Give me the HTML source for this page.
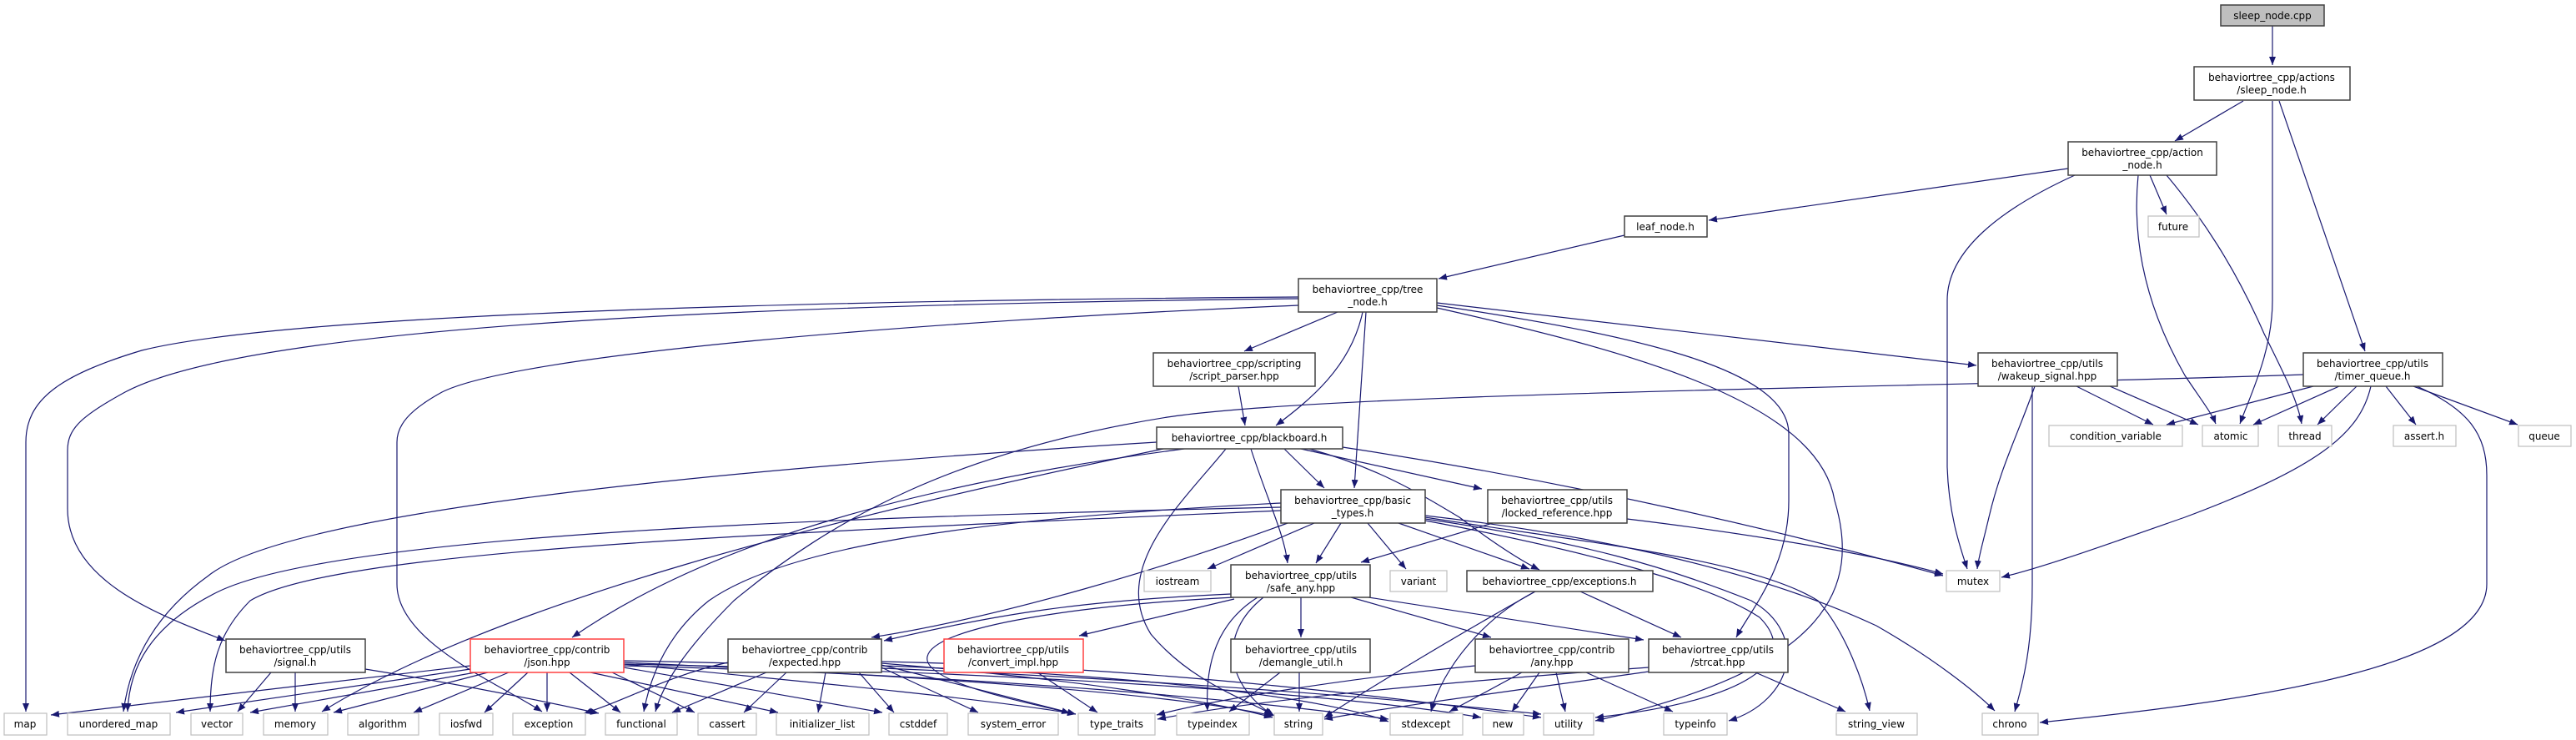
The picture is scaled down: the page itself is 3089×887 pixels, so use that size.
<!DOCTYPE html>
<html><head><meta charset="utf-8"><style>
html,body{margin:0;padding:0;background:#fff;}
svg{display:block;}
text{font-family:"DejaVu Sans","Liberation Sans",sans-serif;font-size:12px;fill:#000;text-anchor:middle;}
.n{fill:#fff;stroke:#404040;stroke-width:1.5;}
.l{fill:#fff;stroke:#bfbfbf;stroke-width:1.2;}
.r{fill:#fff;stroke:#ff4040;stroke-width:1.5;}
.e path{fill:none;stroke:#191970;stroke-width:1.2;marker-end:url(#a);}
</style></head><body>
<svg width="3089" height="887" viewBox="0 0 3089 887" xmlns="http://www.w3.org/2000/svg">
<defs><marker id="a" markerUnits="userSpaceOnUse" markerWidth="11" markerHeight="8" refX="10" refY="4" orient="auto"><path d="M0,0 L10,4 L0,8 z" fill="#191970"/></marker></defs>
<g class="e">
<path d="M2725,31 L2725,78"/>
<path d="M2690,121 L2608,169"/>
<path d="M2733,121 L2836,421"/>
<path d="M2725,121 L2725,360 C2725,420 2700,470 2686,508"/>
<path d="M2480,202 L2049,264"/>
<path d="M2578,210 L2598,257"/>
<path d="M2488,210 C2400,250 2335,300 2335,360 L2335,560 C2337,620 2352,660 2359,682"/>
<path d="M2564,210 C2555,300 2580,380 2620,450 C2640,480 2652,495 2657,508"/>
<path d="M2598,210 C2640,260 2680,320 2715,400 C2740,450 2755,480 2760,508"/>
<path d="M1948,282 L1725,334"/>
<path d="M1557,356 C1000,360 350,375 170,420 C70,450 31,480 31,530 L31,853"/>
<path d="M1557,358 C900,365 300,390 150,470 C95,500 81,515 81,540 L81,610 C81,700 200,740 270,768"/>
<path d="M1557,366 C1100,385 620,425 530,470 C490,492 476,510 476,530 L476,700 C476,770 600,820 650,853"/>
<path d="M1604,374 L1492,421"/>
<path d="M1634,374 C1620,440 1570,480 1530,510"/>
<path d="M1638,374 L1624,585"/>
<path d="M1723,363 L2370,438"/>
<path d="M1723,366 C1950,400 2145,440 2145,520 L2145,600 C2145,680 2100,730 2082,764"/>
<path d="M1723,369 C1950,420 2180,480 2200,600 C2230,700 2200,800 1913,864"/>
<path d="M1485,463 L1493,510"/>
<path d="M1540,538 L1588,585"/>
<path d="M1500,538 C1520,600 1540,640 1544,675"/>
<path d="M1560,538 L1777,586"/>
<path d="M1570,538 C1650,560 1700,590 1750,620 C1790,650 1820,670 1846,683"/>
<path d="M1610,536 C1900,580 2150,640 2330,690"/>
<path d="M1470,538 C1420,600 1330,680 1380,760 C1430,820 1500,840 1528,858"/>
<path d="M1387,530 C900,560 350,610 250,690 C180,740 155,800 148,853"/>
<path d="M1395,538 C1000,620 600,720 386,853"/>
<path d="M1420,538 C1100,580 850,650 686,764"/>
<path d="M2490,463 L2582,509"/>
<path d="M2530,463 L2636,509"/>
<path d="M2440,463 C2420,520 2399,560 2385,620 C2378,650 2372,670 2371,682"/>
<path d="M2437,463 L2437,700 C2437,780 2425,820 2416,853"/>
<path d="M2774,463 L2598,509"/>
<path d="M2805,463 L2702,509"/>
<path d="M2826,463 L2779,509"/>
<path d="M2861,463 L2897,509"/>
<path d="M2894,463 L3019,509"/>
<path d="M2896,462 C2960,490 2982,520 2982,570 L2982,700 C2982,800 2700,840 2446,866"/>
<path d="M2843,463 C2830,520 2780,560 2620,620 C2520,655 2450,680 2400,692"/>
<path d="M2762,449 C2300,465 1600,470 1400,500 C1150,540 1000,620 880,720 C820,780 795,820 786,853"/>
<path d="M1536,603 C1200,620 950,650 850,720 C800,760 780,810 772,853"/>
<path d="M1536,608 C1000,620 400,640 260,710 C180,750 155,800 153,853"/>
<path d="M1536,612 C900,640 400,660 300,720 C260,760 252,800 252,853"/>
<path d="M1576,627 L1448,682"/>
<path d="M1608,627 L1578,675"/>
<path d="M1640,627 L1686,682"/>
<path d="M1677,627 L1834,682"/>
<path d="M1544,627 C1400,680 1200,740 1045,764"/>
<path d="M1709,618 C1900,640 2100,680 2250,750 C2320,790 2370,830 2392,852"/>
<path d="M1709,620 C1900,650 2100,670 2180,720 C2215,760 2235,820 2242,852"/>
<path d="M1709,622 C1900,650 2000,680 2100,720 C2170,760 2150,840 2073,864"/>
<path d="M1709,624 C1900,660 2050,700 2110,740 C2160,790 2100,840 1913,860"/>
<path d="M1790,627 L1632,674"/>
<path d="M1951,622 C2100,640 2250,665 2330,688"/>
<path d="M1480,718 L1294,762"/>
<path d="M1476,712 C1300,720 1200,735 1060,768"/>
<path d="M1560,716 L1560,764"/>
<path d="M1620,716 L1788,764"/>
<path d="M1641,716 L1971,767"/>
<path d="M1508,716 C1470,740 1444,780 1448,852"/>
<path d="M1515,716 C1460,760 1470,820 1526,857"/>
<path d="M1480,716 C1300,725 1120,750 1112,787 C1105,820 1250,845 1283,855"/>
<path d="M1895,709 L2016,764"/>
<path d="M1841,709 C1780,740 1730,800 1716,853"/>
<path d="M1841,709 C1750,760 1650,820 1588,860"/>
<path d="M325,806 L285,853"/>
<path d="M354,806 L354,853"/>
<path d="M438,802 C550,820 650,840 718,855"/>
<path d="M564,798 L61,857"/>
<path d="M564,802 L211,854"/>
<path d="M570,806 L300,854"/>
<path d="M585,806 L400,854"/>
<path d="M610,806 L496,854"/>
<path d="M633,806 L581,854"/>
<path d="M656,806 L656,853"/>
<path d="M683,806 L744,854"/>
<path d="M734,806 L833,854"/>
<path d="M708,806 L933,854"/>
<path d="M748,800 L1058,854"/>
<path d="M748,796 C1000,820 1200,840 1290,856"/>
<path d="M748,794 C1100,810 1400,830 1526,858"/>
<path d="M748,792 C1200,800 1600,830 1848,856"/>
<path d="M748,798 C1200,810 1500,840 1665,862"/>
<path d="M748,796 C1200,805 1600,830 1776,860"/>
<path d="M919,806 L806,854"/>
<path d="M873,794 C800,810 750,840 700,855"/>
<path d="M943,806 L892,854"/>
<path d="M990,806 L981,854"/>
<path d="M1030,806 L1072,854"/>
<path d="M1057,800 L1173,854"/>
<path d="M1057,797 L1290,856"/>
<path d="M1057,795 C1300,815 1450,840 1526,860"/>
<path d="M1057,793 C1400,800 1700,840 1848,860"/>
<path d="M1057,798 C1400,810 1600,840 1665,865"/>
<path d="M1244,806 L1316,854"/>
<path d="M1535,806 L1474,853"/>
<path d="M1558,806 L1558,853"/>
<path d="M1825,806 L1738,853"/>
<path d="M1846,806 L1813,853"/>
<path d="M1866,806 L1877,853"/>
<path d="M1902,806 L2006,853"/>
<path d="M1769,798 C1600,815 1450,840 1387,857"/>
<path d="M1977,805 C1800,830 1650,850 1588,862"/>
<path d="M2105,806 L2213,853"/>
<path d="M1977,800 C1700,820 1500,840 1388,862"/>
</g>
<!-- main nodes -->
<rect x="2663" y="6" width="124" height="25" fill="#bfbfbf" stroke="#404040" stroke-width="1.5"/><text x="2725" y="23">sleep_node.cpp</text>
<rect class="n" x="2631" y="80" width="187" height="40"/><text x="2724" y="97">behaviortree_cpp/actions</text><text x="2724" y="112">/sleep_node.h</text>
<rect class="n" x="2480" y="170" width="178" height="40"/><text x="2569" y="187">behaviortree_cpp/action</text><text x="2569" y="202">_node.h</text>
<rect class="n" x="1948" y="259" width="99" height="25"/><text x="1997" y="276">leaf_node.h</text>
<rect class="n" x="1557" y="334" width="166" height="40"/><text x="1640" y="351">behaviortree_cpp/tree</text><text x="1640" y="366">_node.h</text>
<rect class="n" x="1383" y="423" width="194" height="40"/><text x="1480" y="440">behaviortree_cpp/scripting</text><text x="1480" y="455">/script_parser.hpp</text>
<rect class="n" x="2372" y="423" width="167" height="40"/><text x="2455" y="440">behaviortree_cpp/utils</text><text x="2455" y="455">/wakeup_signal.hpp</text>
<rect class="n" x="2762" y="423" width="167" height="40"/><text x="2845" y="440">behaviortree_cpp/utils</text><text x="2845" y="455">/timer_queue.h</text>
<rect class="n" x="1387" y="512" width="223" height="26"/><text x="1498" y="529">behaviortree_cpp/blackboard.h</text>
<rect class="n" x="1536" y="587" width="173" height="40"/><text x="1622" y="604">behaviortree_cpp/basic</text><text x="1622" y="619">_types.h</text>
<rect class="n" x="1784" y="587" width="167" height="40"/><text x="1867" y="604">behaviortree_cpp/utils</text><text x="1867" y="619">/locked_reference.hpp</text>
<rect class="n" x="1476" y="677" width="167" height="39"/><text x="1560" y="694">behaviortree_cpp/utils</text><text x="1560" y="709">/safe_any.hpp</text>
<rect class="n" x="1759" y="684" width="223" height="25"/><text x="1870" y="701">behaviortree_cpp/exceptions.h</text>
<rect class="n" x="271" y="766" width="167" height="40"/><text x="354" y="783">behaviortree_cpp/utils</text><text x="354" y="798">/signal.h</text>
<rect class="r" x="564" y="766" width="184" height="40"/><text x="656" y="783">behaviortree_cpp/contrib</text><text x="656" y="798">/json.hpp</text>
<rect class="n" x="873" y="766" width="184" height="40"/><text x="965" y="783">behaviortree_cpp/contrib</text><text x="965" y="798">/expected.hpp</text>
<rect class="r" x="1132" y="766" width="167" height="40"/><text x="1215" y="783">behaviortree_cpp/utils</text><text x="1215" y="798">/convert_impl.hpp</text>
<rect class="n" x="1476" y="766" width="167" height="40"/><text x="1560" y="783">behaviortree_cpp/utils</text><text x="1560" y="798">/demangle_util.h</text>
<rect class="n" x="1769" y="766" width="184" height="40"/><text x="1861" y="783">behaviortree_cpp/contrib</text><text x="1861" y="798">/any.hpp</text>
<rect class="n" x="1977" y="766" width="167" height="40"/><text x="2060" y="783">behaviortree_cpp/utils</text><text x="2060" y="798">/strcat.hpp</text>
<!-- leaf nodes -->
<rect class="l" x="2576" y="259" width="61" height="25"/><text x="2606" y="276">future</text>
<rect class="l" x="2457" y="510" width="160" height="25"/><text x="2537" y="527">condition_variable</text>
<rect class="l" x="2641" y="510" width="67" height="25"/><text x="2675" y="527">atomic</text>
<rect class="l" x="2732" y="510" width="64" height="25"/><text x="2764" y="527">thread</text>
<rect class="l" x="2870" y="510" width="75" height="25"/><text x="2907" y="527">assert.h</text>
<rect class="l" x="3020" y="510" width="63" height="25"/><text x="3051" y="527">queue</text>
<rect class="l" x="1372" y="684" width="80" height="25"/><text x="1412" y="701">iostream</text>
<rect class="l" x="1667" y="684" width="68" height="25"/><text x="1701" y="701">variant</text>
<rect class="l" x="2334" y="684" width="64" height="25"/><text x="2366" y="701">mutex</text>
<rect class="l" x="5" y="855" width="51" height="26"/><text x="30" y="872">map</text>
<rect class="l" x="81" y="855" width="123" height="26"/><text x="142" y="872">unordered_map</text>
<rect class="l" x="229" y="855" width="62" height="26"/><text x="260" y="872">vector</text>
<rect class="l" x="316" y="855" width="77" height="26"/><text x="354" y="872">memory</text>
<rect class="l" x="417" y="855" width="85" height="26"/><text x="459" y="872">algorithm</text>
<rect class="l" x="527" y="855" width="64" height="26"/><text x="559" y="872">iosfwd</text>
<rect class="l" x="615" y="855" width="87" height="26"/><text x="658" y="872">exception</text>
<rect class="l" x="726" y="855" width="86" height="26"/><text x="769" y="872">functional</text>
<rect class="l" x="837" y="855" width="70" height="26"/><text x="872" y="872">cassert</text>
<rect class="l" x="931" y="855" width="111" height="26"/><text x="986" y="872">initializer_list</text>
<rect class="l" x="1066" y="855" width="70" height="26"/><text x="1101" y="872">cstddef</text>
<rect class="l" x="1161" y="855" width="108" height="26"/><text x="1215" y="872">system_error</text>
<rect class="l" x="1293" y="855" width="92" height="26"/><text x="1339" y="872">type_traits</text>
<rect class="l" x="1411" y="855" width="87" height="26"/><text x="1454" y="872">typeindex</text>
<rect class="l" x="1528" y="855" width="58" height="26"/><text x="1557" y="872">string</text>
<rect class="l" x="1667" y="855" width="87" height="26"/><text x="1710" y="872">stdexcept</text>
<rect class="l" x="1778" y="855" width="49" height="26"/><text x="1802" y="872">new</text>
<rect class="l" x="1851" y="855" width="60" height="26"/><text x="1881" y="872">utility</text>
<rect class="l" x="1995" y="855" width="76" height="26"/><text x="2033" y="872">typeinfo</text>
<rect class="l" x="2202" y="855" width="97" height="26"/><text x="2250" y="872">string_view</text>
<rect class="l" x="2377" y="855" width="67" height="26"/><text x="2410" y="872">chrono</text>
</svg>
</body></html>
